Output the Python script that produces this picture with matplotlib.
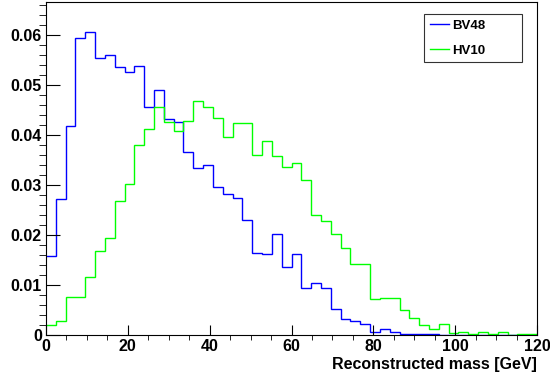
import numpy as np
import matplotlib
matplotlib.use("Agg")
import matplotlib.pyplot as plt
from matplotlib.ticker import MultipleLocator

plt.rcParams['font.family'] = ['Liberation Sans', 'DejaVu Sans']
plt.rcParams['font.weight'] = 'bold'

# 50 bins of 2.4 GeV between 0 and 120
bin_edges = np.linspace(0, 120, 51)

# Normalised histograms
bv48 = [0.0158, 0.0273, 0.0418, 0.0595, 0.0606, 0.0555, 0.0561, 0.0536, 0.0527, 0.0539,
        0.0457, 0.0491, 0.0432, 0.0427, 0.0367, 0.0335, 0.0341, 0.0297, 0.0283, 0.0275,
        0.0231, 0.0165, 0.0163, 0.0203, 0.0136, 0.0163, 0.0095, 0.0105, 0.0095, 0.0053,
        0.0033, 0.0028, 0.0022, 0.0007, 0.0012, 0.0007, 0.0003, 0.0002, 0.0002, 0.0003,
        0.0001, 0.0001, 0.0001, 0.0, 0.0001, 0.0, 0.0, 0.0, 0.0, 0.0]
hv10 = [0.0021, 0.0029, 0.0076, 0.0076, 0.0117, 0.0168, 0.0195, 0.0268, 0.0303, 0.0380,
        0.0412, 0.0456, 0.0426, 0.0409, 0.0429, 0.0469, 0.0456, 0.0435, 0.0397, 0.0425,
        0.0425, 0.0361, 0.0389, 0.0358, 0.0337, 0.0345, 0.0310, 0.0241, 0.0229, 0.0203,
        0.0175, 0.0143, 0.0143, 0.0073, 0.0075, 0.0074, 0.0051, 0.0035, 0.0020, 0.0013,
        0.0023, 0.0005, 0.0007, 0.0003, 0.0006, 0.0003, 0.0007, 0.0, 0.0003, 0.0003]

W, H = 550, 376
fig = plt.figure(figsize=(W / 100, H / 100), dpi=100)
# frame in pixels: x 46..537, y 2..335 (from top)
ax = fig.add_axes([46 / W, (H - 335) / H, (537 - 46) / W, (335 - 2) / H])

ax.stairs(bv48, bin_edges, baseline=None, color='#0000ff', linewidth=1.0, label='BV48')
ax.stairs(hv10, bin_edges, baseline=None, color='#00ff00', linewidth=1.0, label='HV10')

ax.set_xlim(0, 120)
ax.set_ylim(0, 0.0667)

# ROOT style ticks: inside, only left and bottom
ax.xaxis.set_major_locator(MultipleLocator(20))
ax.xaxis.set_minor_locator(MultipleLocator(5))
ax.yaxis.set_major_locator(MultipleLocator(0.01))
ax.yaxis.set_minor_locator(MultipleLocator(0.002))
ax.yaxis.set_major_formatter(lambda v, p: '0' if abs(v) < 1e-9 else f'{v:.2f}')
ax.tick_params(direction='in', labelsize=11.5, width=0.8, colors='black')
ax.xaxis.set_tick_params(which='major', length=7.2, pad=3)
ax.xaxis.set_tick_params(which='minor', length=3.6)
ax.yaxis.set_tick_params(which='major', length=10, pad=3)
ax.yaxis.set_tick_params(which='minor', length=5)

for s in ax.spines.values():
    s.set_linewidth(0.8)
    s.set_color('black')

ax.set_xlabel('Reconstructed mass [GeV]', fontsize=11.5, fontweight='bold')
ax.xaxis.set_label_coords(1.0, -0.065)
ax.xaxis.label.set_horizontalalignment('right')

# legend box: x 424..522, y 14..62 px
leg = ax.legend(loc='upper left', bbox_to_anchor=(0.770, 0.5, 0.1996, 0.464),
                mode='expand', borderaxespad=0, fancybox=False, frameon=True,
                edgecolor='black', fontsize=9.5, handlelength=1.45,
                handletextpad=0.25, labelspacing=0.95, borderpad=0.42)
leg.get_frame().set_linewidth(0.8)

fig.savefig('out.png', dpi=100, facecolor='white')
